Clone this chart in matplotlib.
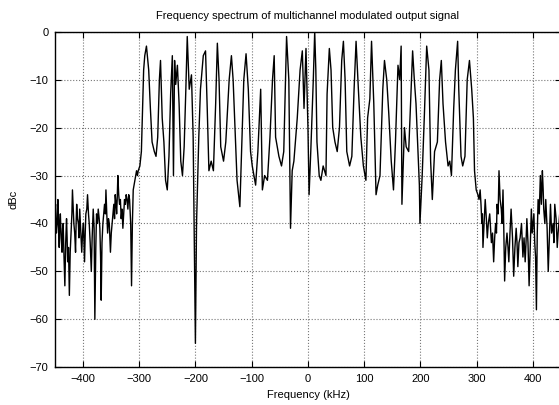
import matplotlib
matplotlib.use("Agg")
import matplotlib.pyplot as plt
import numpy as np

# spectrum, split in three parts (kHz, dBc)
freq_lo = [-450, -448.5, -447, -445.5, -444.4, -443, -442, -441, -440, -438.5, -437, -436,
           -435, -433.5, -432, -430.5, -429, -428, -427, -425.5, -424, -422.5, -421, -419.5,
           -418.5, -417, -416, -414.5, -413, -412, -411, -409.5, -408, -407, -405.6, -404,
           -402, -400.5, -399, -398, -397, -395.8, -394.7, -393, -391.7, -390, -388.7, -387,
           -385, -383.5, -381.6, -380, -378.7, -377, -375.7, -374, -372.7, -371, -369.8, -368.5,
           -367.4, -366, -364.4, -363, -361.5, -360, -359, -357.5, -356, -354.5, -353, -352,
           -351, -349.5, -348, -346.5, -345, -343.7, -342.5, -341, -340, -339, -337.8, -336.3,
           -334.8, -333.3, -331.9, -330.4, -328.9, -327.4, -326, -324.5, -323, -321.5, -320, -318.5,
           -317, -315, -313.5, -312, -310.5, -309, -307.6, -306, -304.6, -303, -301.6]
dbc_lo = [-38, -36, -42, -40, -35, -41, -45, -40, -38, -43, -46, -41,
          -40, -47, -53, -44, -39, -43, -48, -45, -55, -46, -42, -38,
          -33, -37, -40, -42, -46, -40, -36, -39, -40, -43, -37, -41,
          -46, -42, -40, -44, -48, -42, -38, -37, -34, -38, -40, -44,
          -50, -43, -37, -41, -60, -45, -38, -40, -37, -39, -41, -47,
          -56, -44, -40, -38, -36, -38, -33, -38, -42, -39, -40, -43,
          -46, -42, -40, -38, -36, -39, -34, -36, -38, -35, -30, -34,
          -36, -35, -39, -37, -41, -38, -35, -36, -34, -35, -37, -34,
          -35, -40, -53, -40, -33, -32, -31, -30, -29, -30, -29]

freq_band = [-298.7, -296, -292, -290, -287, -283, -280, -277, -273, -270, -267, -264,
             -262, -259, -256, -253, -250, -247, -244, -241, -239, -237, -235, -232,
             -229, -226, -223, -220, -217, -214.5, -211, -207, -204, -200, -198, -194,
             -191, -186, -182, -179, -176, -172, -168, -164, -161, -158, -155, -150,
             -146, -140, -136, -133, -129, -126, -121, -118.5, -114, -110, -106, -102,
             -99, -96, -93, -89, -84, -81, -77, -72, -67.5, -63, -60, -57.5,
             -51.6, -47, -43, -38, -34, -31, -28, -25, -19, -14, -10, -7,
             -3.5, 0, 2, 5, 9.5, 12, 14, 16, 20, 23, 27, 32,
             34, 38, 41, 44, 48, 52, 56, 60, 63, 66, 69, 74,
             78, 82, 85.5, 89.6, 94, 98.5, 103, 106, 110, 113, 117, 121,
             124, 128, 133, 136, 140, 143.6, 148, 152, 155.5, 160, 163, 165.6,
             167, 171.5, 174.5, 179, 183, 186, 189, 192, 198, 199, 203, 207,
             211, 215, 218, 221, 225, 230, 234, 237, 240, 244.5, 249, 252,
             255, 259, 262, 266, 268, 272, 275, 279, 283, 287, 291, 294,
             296, 299]
dbc_band = [-28, -25, -8, -5, -3, -8, -16, -23, -25, -26, -22, -10,
            -6, -18, -23, -31, -33, -26, -13, -5, -30, -6, -11, -7,
            -15, -27, -30, -24, -12, -1, -12, -9, -22, -65, -40, -22,
            -12, -5, -4, -16, -29, -27, -29, -15, -2.4, -10, -24, -27,
            -23, -10, -5, -10, -22, -31, -36.5, -27, -10, -4.6, -12, -25,
            -28, -30, -32, -25, -12, -33, -30, -31, -22, -10, -5, -22,
            -26, -28, -25, -1, -10, -41, -29, -27, -18, -8, -4, -16,
            -3.5, -20, -34, -25, -10, 0, -8, -23, -30, -31, -28, -30,
            -13, -3.5, -8, -20, -23, -25, -20, -6, -2, -10, -25, -28,
            -26, -12, -2, -12, -22, -28, -31, -18, -14, -2, -15, -34,
            -32, -30, -12, -6, -10, -17, -27, -33, -23, -7, -10, -3,
            -36, -20, -24, -25, -13, -4, -10, -15, -32, -40, -30, -17,
            -3, -8, -27, -35, -25, -23, -10, -6, -15, -23, -28, -27,
            -30, -16, -8, -2, -12, -26, -28, -26, -10, -6, -12, -18,
            -29, -33]

freq_hi = [302, 304, 306, 307.5, 309, 310, 311, 313, 315, 317, 318.7, 320.5,
           323, 324.5, 326, 328, 330, 331.8, 333.5, 335, 336, 338, 339.5, 341.5,
           343.6, 345, 346.6, 348, 349.5, 351.5, 353.7, 355.5, 357, 359, 361, 363.5,
           365.6, 367.8, 370, 371.5, 373, 375, 377, 379.5, 382, 384, 386, 387.5,
           389, 391, 393, 395, 397, 398.5, 400, 401.5, 403, 404.5, 406, 407.5,
           409, 411, 413, 414.8, 416.6, 418, 419, 421, 422.6, 425, 427, 429,
           431, 433, 435.6, 437, 438.6, 441, 443, 444.5, 446, 448, 450]
dbc_hi = [-34, -35, -33, -36, -40, -38, -45, -40, -35, -39, -43, -40,
          -38, -41, -44, -42, -48, -43, -40, -42, -36, -38, -29, -35,
          -37, -40, -33, -41, -52, -45, -42, -45, -48, -42, -37, -43,
          -51, -45, -41, -44, -49, -44, -43, -40, -47, -43, -48, -44,
          -39, -44, -53, -45, -37, -42, -40, -38, -44, -47, -58, -42,
          -35, -38, -30, -36, -29, -33, -37, -40, -35, -41, -50, -43,
          -36, -42, -40, -44, -36, -39, -45, -42, -40, -37, -42]

freq = np.array(freq_lo + freq_band + freq_hi)
dbc = np.array(dbc_lo + dbc_band + dbc_hi)

plt.rcParams['font.family'] = ['Liberation Sans', 'DejaVu Sans']
plt.rcParams['font.size'] = 8

fig = plt.figure(figsize=(5.59, 4.05), dpi=100)
ax = fig.add_axes([0.0979, 0.0931, 0.906, 0.8286])

ax.plot(freq, dbc, color='black', linewidth=1.0)

ax.set_xlim(-450, 450)
ax.set_ylim(-70, 0)
ax.set_xticks(np.arange(-400, 401, 100))
ax.set_yticks(np.arange(-70, 1, 10))
ax.grid(True, color='#777777', linestyle=':', linewidth=0.8)
ax.tick_params(direction='in', length=4, width=0.8, top=True, right=True, labelsize=8)
ax.tick_params(axis='x', pad=5)
ax.tick_params(axis='y', pad=4.5)
for s in ax.spines.values():
    s.set_linewidth(1.0)

ax.set_title('Frequency spectrum of multichannel modulated output signal', fontsize=8, pad=9)
ax.set_xlabel('Frequency (kHz)', fontsize=8, labelpad=4)
ax.set_ylabel('dBc', fontsize=8, labelpad=8)

fig.savefig('out.png', dpi=100)
